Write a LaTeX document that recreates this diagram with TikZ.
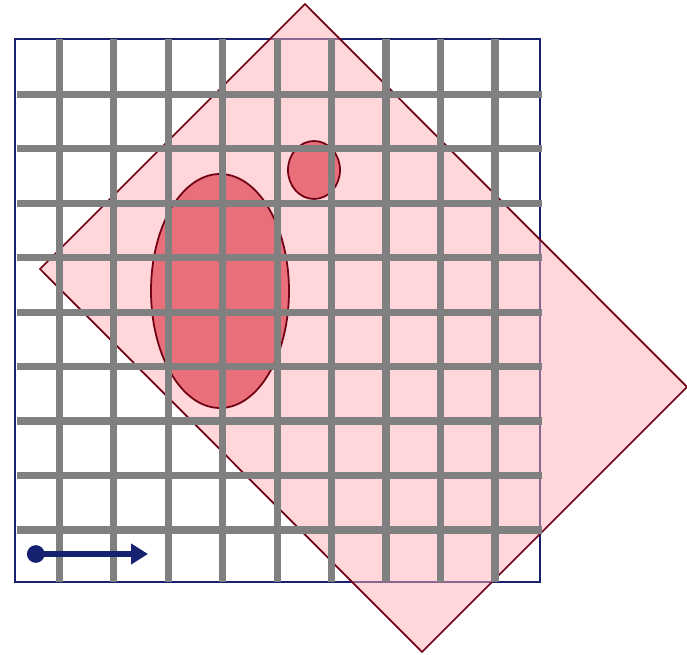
\documentclass[tikz,border=0pt]{standalone}
\usepackage{tikz}
\usetikzlibrary{arrows.meta,calc}

\definecolor{frameblue}{RGB}{22,34,112}
\definecolor{gridgray}{RGB}{128,128,128}
\definecolor{rosefill}{RGB}{255,173,181}
\definecolor{wine}{RGB}{112,0,20}
\definecolor{blobred}{RGB}{233,111,123}

\begin{document}
\begin{tikzpicture}[x=0.02cm, y=-0.02cm]
\useasboundingbox (0,0) rectangle (687,655);

% frame
\draw[frameblue, line width=1.1pt] (15,39) rectangle (540,582);

% tilted sheet
\draw[wine, line width=1pt, fill=rosefill, fill opacity=0.5] (305,4) -- (687,387) -- (422,652) -- (40,269) -- cycle;

% blobs
\draw[wine, line width=1pt, fill=blobred] (220,291) ellipse (69 and 117);
\draw[wine, line width=1pt, fill=blobred] (314,170) ellipse (26 and 29);

% grid
\foreach \i in {0,...,8} {
  \draw[gridgray, line width=4.1pt] ($(59.3,39)+(\i*54.46,0)$) -- ($(59.3,582)+(\i*54.46,0)$);
  \draw[gridgray, line width=4.1pt] ($(17,94.3)+(0,\i*54.46)$) -- ($(542,94.3)+(0,\i*54.46)$);
}

% direction
\coordinate (origin) at (27,554);
\coordinate (dir) at (148,554);
\draw[frameblue, line width=3.4pt, {Circle[length=10pt]}-{Triangle[length=9.6pt,width=11.3pt]}] (origin) -- (dir);
\end{tikzpicture}
\end{document}
